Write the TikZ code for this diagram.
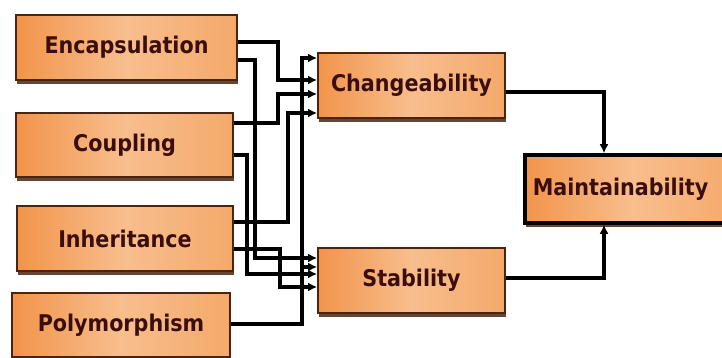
\documentclass[tikz,border=0pt]{standalone}
\usepackage{fontspec}
\setsansfont{DejaVu Sans Condensed}
\usepackage{tikz}
\usepackage{xcolor}
\usetikzlibrary{calc,shadows,arrows.meta}
\definecolor{boxorange}{HTML}{F2944A}
\definecolor{boxpeach}{HTML}{F8BE8E}
\definecolor{boxlight}{HTML}{F4A96A}
\definecolor{boxedge}{HTML}{4A2410}
\definecolor{boxtext}{HTML}{3A0E0C}
\tikzstyle{attrbox} = [
    draw=boxedge,
    line width=1.8pt,
    rectangle,
    left color=boxorange,
    right color=boxlight,
    middle color=boxpeach,
    text=boxtext,
    font=\sffamily\bfseries\fontsize{23}{26}\selectfont,
    inner sep=0pt,
    drop shadow={shadow xshift=1pt, shadow yshift=-4pt, fill=boxedge, opacity=0.85}
    ]
\tikzstyle{goalbox} = [
    attrbox,
    draw=black,
    line width=3.5pt
    ]
\tikzstyle{link} = [
    line width=3.2pt,
    -{Latex[length=9pt,width=9pt]}
    ]

\begin{document}
\begin{tikzpicture}[x=1pt,y=-1pt]
\useasboundingbox (0,0) rectangle (722,358);
% quality attributes
\node[attrbox, minimum width=221pt, minimum height=65pt] (enc) at (126.5,47.5) {Encapsulation};
\node[attrbox, minimum width=217pt, minimum height=64pt] (coup) at (124.5,145) {Coupling};
\node[attrbox, minimum width=216pt, minimum height=65pt] (inh) at (125,238.5) {Inheritance};
\node[attrbox, minimum width=218pt, minimum height=64pt] (poly) at (121,325) {Polymorphism};
% sub characteristics
\node[attrbox, minimum width=187pt, minimum height=65pt] (chg) at (411.5,85.5) {Changeability};
\node[attrbox, minimum width=187pt, minimum height=65pt] (stab) at (411.5,280.5) {Stability};
% goal
\node[goalbox, minimum width=215pt, minimum height=68pt] (maint) at (632.5,189) {Maintainability\hspace*{24pt}};

\draw[link] (enc.east |- 0,42) -- (278,42) |- (chg.west |- 0,80);
\draw[link] (enc.east |- 0,60) -- (255,60) |- (stab.west |- 0,258);
\draw[link] (coup.east |- 0,123) -- (278,123) |- (chg.west |- 0,94);
\draw[link] (coup.east |- 0,155) -- (247,155) |- (stab.west |- 0,274);
\draw[link] (inh.east |- 0,222) -- (288,222) |- (chg.west |- 0,113);
\draw[link] (inh.east |- 0,249) -- (280,249) |- (stab.west |- 0,287);
\draw[link] (poly.east |- 0,324) -- (302,324) |- (chg.west |- 0,58);
\draw[link] (302,267) -- (stab.west |- 0,267);

\draw[link] (chg.east |- 0,92) -| (maint.north -| 604,0);
\draw[link] (stab.east |- 0,278) -| (maint.south -| 604,0);
\end{tikzpicture}
\end{document}
